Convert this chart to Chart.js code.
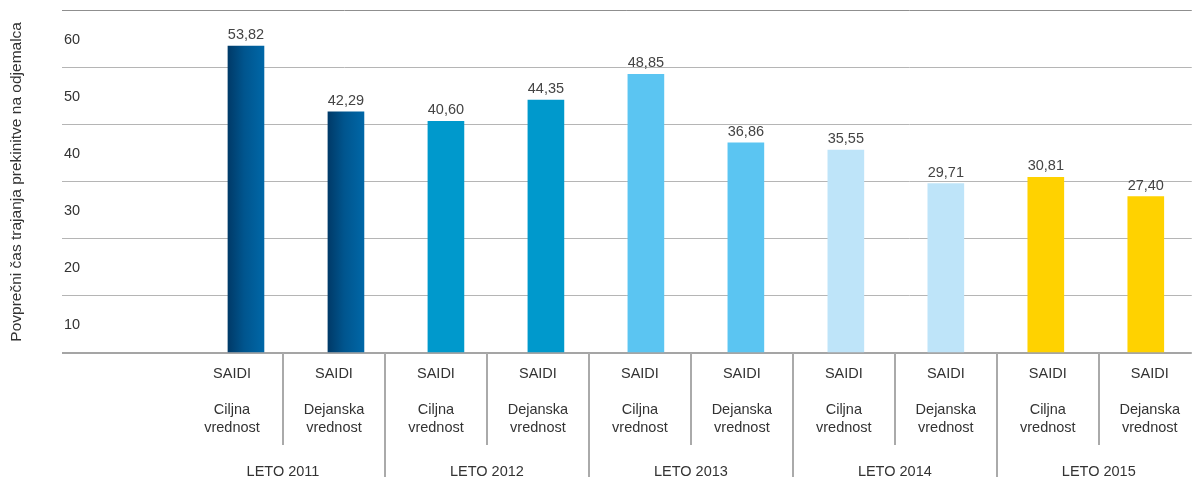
<!DOCTYPE html>
<html>
<head>
<meta charset="utf-8">
<script src="https://cdn.jsdelivr.net/npm/chart.js@4"></script>
<style>
  html, body { margin: 0; padding: 0; background: #fff; }
</style>
</head>
<body>
<canvas id="saidiChart" width="1192" height="477"></canvas>
<script>
const years = ['LETO 2011', 'LETO 2012', 'LETO 2013', 'LETO 2014', 'LETO 2015'];
const metric = 'SAIDI';
const kinds = [['Ciljna', 'vrednost'], ['Dejanska', 'vrednost']];
const values = [53.82, 42.29, 40.60, 44.35, 48.85, 36.86, 35.55, 29.71, 30.81, 27.40];
const yearColors = ['#00558e', '#0099cc', '#5bc5f2', '#bee4f9', '#ffd200'];
const yTitle = 'Povprečni čas trajanja prekinitve na odjemalca';

// one label per bar: SAIDI, blank line, kind (two lines)
const labels = [];
years.forEach(() => kinds.forEach(k => labels.push([metric, ''].concat(k))));

Chart.defaults.font.family = "'Liberation Sans', Arial, Helvetica, sans-serif";
Chart.defaults.color = '#333';

const barFill = (c) => {
  const i = c.dataIndex;
  const year = Math.floor(i / kinds.length);
  if (year !== 0) return yearColors[year];
  const sc = c.chart.scales.x;
  const px = sc ? sc.getPixelForValue(i) : NaN;
  if (!isFinite(px)) return yearColors[0];
  // the 2011 bars shade from dark navy to blue
  const g = c.chart.ctx.createLinearGradient(px - 18, 0, px + 18, 0);
  g.addColorStop(0, '#003a68');
  g.addColorStop(0.45, '#00558e');
  g.addColorStop(1, '#0067a7');
  return g;
};

const valueLabels = {
  id: 'valueLabels',
  afterDatasetsDraw(chart) {
    const ctx = chart.ctx;
    const meta = chart.getDatasetMeta(0);
    ctx.save();
    ctx.font = "14.5px 'Liberation Sans', Arial, sans-serif";
    ctx.fillStyle = '#444';
    ctx.textAlign = 'center';
    ctx.textBaseline = 'alphabetic';
    meta.data.forEach((bar, i) => {
      ctx.fillText(values[i].toFixed(2).replace('.', ','), bar.x, bar.y - 7);
    });
    ctx.restore();
  }
};

const separators = {
  id: 'separators',
  afterDraw(chart) {
    const {ctx, chartArea, scales} = chart;
    const sc = scales.xl;
    ctx.save();
    ctx.strokeStyle = '#aaaaaa';
    ctx.lineWidth = 2;
    for (let j = 0; j < labels.length - 1; j++) {
      const x = Math.round(sc.getPixelForValue(j + 0.5));
      const end = j % 2 === 1 ? chart.height : sc.bottom + 10;
      ctx.beginPath();
      ctx.moveTo(x, chartArea.bottom);
      ctx.lineTo(x, end);
      ctx.stroke();
    }
    ctx.restore();
  }
};

new Chart(document.getElementById('saidiChart'), {
  type: 'bar',
  data: {
    datasets: [{
      label: metric,
      data: values.map((v, i) => ({x: i, y: v})),
      backgroundColor: barFill,
      barThickness: 36
    }]
  },
  options: {
    responsive: false,
    animation: false,
    layout: { padding: { top: 9, left: 0, right: 0, bottom: 0 } },
    plugins: { legend: { display: false }, tooltip: { enabled: false } },
    scales: {
      x: {
        type: 'linear',
        display: false,
        offset: false,
        min: -1.84,
        max: 9.46
      },
      xl: {
        type: 'linear',
        position: 'bottom',
        weight: 0,
        offset: false,
        min: -1.667,
        max: 9.412,
        afterBuildTicks: (s) => { s.ticks = labels.map((l, i) => ({value: i})); },
        afterFit: (s) => { s.height = 82; },
        ticks: {
          autoSkip: false,
          maxRotation: 0,
          padding: 12,
          color: '#333',
          font: { size: 14.5, lineHeight: 18 / 14.5 },
          callback: (v) => labels[v]
        },
        grid: { display: false, drawTicks: false },
        border: { display: false }
      },
      xg: {
        type: 'linear',
        position: 'bottom',
        weight: 1,
        offset: false,
        min: -1.667,
        max: 9.412,
        afterBuildTicks: (s) => { s.ticks = years.map((y, i) => ({value: i * 2 + 0.5})); },
        afterFit: (s) => { s.height = 42; },
        ticks: {
          autoSkip: false,
          maxRotation: 0,
          padding: 30,
          color: '#333',
          font: { size: 14.5, lineHeight: 14 / 14.5 },
          callback: (v) => years[Math.round((v - 0.5) / 2)]
        },
        grid: { display: false, drawTicks: false },
        border: { display: false }
      },
      y: {
        min: 0,
        max: 60,
        afterFit: (s) => { s.width = 62; },
        ticks: {
          stepSize: 10,
          mirror: true,
          padding: 2,
          labelOffset: 29,
          color: '#333',
          font: { size: 14.5 },
          callback: (v) => (v === 0 ? '' : v)
        },
        grid: {
          drawTicks: false,
          color: (c) => (c.tick.value === 60 ? '#8f8f8f' : c.tick.value === 0 ? '#a5a5a5' : '#b5b5b5'),
          lineWidth: (c) => (c.tick.value === 0 ? 2 : 1)
        },
        border: { display: false },
        title: {
          display: true,
          text: yTitle,
          color: '#333',
          font: { size: 15.5 },
          padding: { top: 7, bottom: 0 }
        }
      }
    }
  },
  plugins: [valueLabels, separators]
});
</script>
</body>
</html>
